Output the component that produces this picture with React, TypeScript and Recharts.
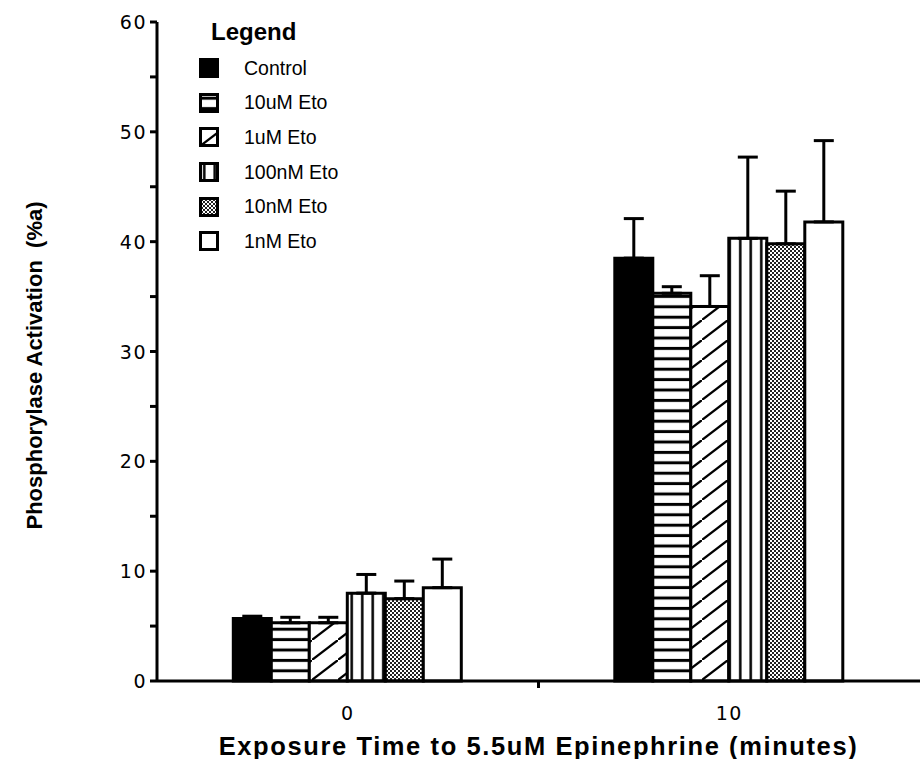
import React from 'react';
import { BarChart, Bar, XAxis, YAxis, ErrorBar, Legend } from 'recharts';

const categories = ['0', '10'];
const seriesNames = ['Control', '10uM Eto', '1uM Eto', '100nM Eto', '10nM Eto', '1nM Eto'];
const controlValues = [5.7, 38.5];
const controlErrors = [0.2, 3.6];
const eto10uMValues = [5.3, 35.3];
const eto10uMErrors = [0.5, 0.6];
const eto1uMValues = [5.3, 34.1];
const eto1uMErrors = [0.5, 2.8];
const eto100nMValues = [8.0, 40.3];
const eto100nMErrors = [1.7, 7.4];
const eto10nMValues = [7.5, 39.8];
const eto10nMErrors = [1.6, 4.8];
const eto1nMValues = [8.5, 41.8];
const eto1nMErrors = [2.6, 7.4];
const yTicks = [0, 5, 10, 15, 20, 25, 30, 35, 40, 45, 50, 55, 60];

const seriesValues = [controlValues, eto10uMValues, eto1uMValues, eto100nMValues, eto10nMValues, eto1nMValues];
const seriesErrors = [controlErrors, eto10uMErrors, eto1uMErrors, eto100nMErrors, eto10nMErrors, eto1nMErrors];
const fills = ['#000', 'url(#pHoriz)', 'url(#pDiag)', 'url(#pVert)', 'url(#pDots)', '#fff'];

const data = categories.map((c, i) => {
  const row: any = { time: c };
  seriesValues.forEach((vals, s) => {
    row['s' + s] = vals[i];
    row['e' + s] = [0, seriesErrors[s][i]];
  });
  return row;
});

const TICK_FONT = '"DejaVu Sans", sans-serif';
const TITLE_FONT = '"Liberation Sans", Arial, sans-serif';
const X_TICK_MARGIN = 25;

const YTick = (props: any) => {
  const { x, y, payload } = props;
  if (payload.value % 10 !== 0) return null;
  return (
    <text x={x} y={y} textAnchor="end" dominantBaseline="central" fontSize={19} letterSpacing={1.5} fontFamily={TICK_FONT} fill="#000">
      {payload.value}
    </text>
  );
};

const XTick = (props: any) => {
  const { x, y, payload, index } = props;
  const axisY = y - X_TICK_MARGIN;
  const off = payload && payload.offset ? payload.offset : 0;
  return (
    <g>
      <text x={x} y={y} textAnchor="middle" dominantBaseline="hanging" fontSize={19} letterSpacing={1.5} fontFamily={TICK_FONT} fill="#000">
        {payload.value}
      </text>
      {index === 0 && off ? (
        <line x1={x + off} x2={x + off} y1={axisY} y2={axisY + 7} stroke="#000" strokeWidth={3} />
      ) : null}
    </g>
  );
};

const YLabel = (props: any) => {
  const vb = props.viewBox || {};
  const cx = vb.x + 14;
  const cy = vb.y + vb.height / 2 + 14;
  return (
    <text x={cx} y={cy} transform={`rotate(-90 ${cx} ${cy})`} textAnchor="middle" dominantBaseline="central" fontSize={22} fontWeight="bold" fontFamily={TITLE_FONT} fill="#000">
      {'Phosphorylase Activation\u00a0 (%a)'}
    </text>
  );
};

const XLabel = (props: any) => {
  const vb = props.viewBox || {};
  const cx = vb.x + vb.width / 2;
  const cy = vb.y + 65;
  return (
    <text x={cx} y={cy} textAnchor="middle" dominantBaseline="central" fontSize={25.5} letterSpacing={1.6} fontWeight="bold" fontFamily={TITLE_FONT} fill="#000">
      Exposure Time to 5.5uM Epinephrine (minutes)
    </text>
  );
};

const LegendContent = () => {
  return (
    <div style={{ fontFamily: TITLE_FONT, color: '#000' }}>
      <div style={{ fontSize: 24, fontWeight: 'bold', marginLeft: 12, height: 30, lineHeight: '30px', marginBottom: 4 }}>Legend</div>
      {seriesNames.map((name, idx) => (
        <div key={name} style={{ display: 'flex', alignItems: 'center', height: 34.6 }}>
          <svg width={20} height={20} style={{ display: 'block' }}>
            <rect x={1.5} y={1.5} width={17} height={17} fill={fills[idx]} stroke="#000" strokeWidth={3} />
          </svg>
          <span style={{ fontSize: 19.5, marginLeft: 25 }}>{name}</span>
        </div>
      ))}
    </div>
  );
};

export default function App() {
  return (
    <div style={{ position: 'absolute', left: 0, top: 0, width: 922, height: 759, background: '#fff' }}>
      <BarChart
        width={922}
        height={759}
        data={data}
        margin={{ top: 22, right: 2, bottom: 0, left: 20 }}
        barCategoryGap="20%"
        barGap={0}
      >
        <defs>
          <pattern id="pHoriz" patternUnits="userSpaceOnUse" width={10} height={10.4}>
            <rect width={10} height={10.4} fill="#fff" />
            <rect y={3.7} width={10} height={3} fill="#000" />
          </pattern>
          <pattern id="pDiag" patternUnits="userSpaceOnUse" width={26} height={20}>
            <rect width={26} height={20} fill="#fff" />
            <line x1={-2.6} y1={22} x2={28.6} y2={-2} stroke="#000" strokeWidth={2.2} />
          </pattern>
          <pattern id="pVert" patternUnits="userSpaceOnUse" width={10.5} height={10}>
            <rect width={10.5} height={10} fill="#fff" />
            <rect x={4} width={2.5} height={10} fill="#000" />
          </pattern>
          <pattern id="pDots" patternUnits="userSpaceOnUse" width={4} height={4}>
            <rect width={4} height={4} fill="#fff" />
            <rect x={0} y={0} width={2} height={2} fill="#222" />
            <rect x={2} y={2} width={2} height={2} fill="#222" />
          </pattern>
        </defs>
        <XAxis
          dataKey="time"
          height={78}
          axisLine={{ stroke: '#000', strokeWidth: 3 }}
          tickLine={false}
          tickSize={0}
          tickMargin={X_TICK_MARGIN}
          tick={<XTick />}
          label={<XLabel />}
        />
        <YAxis
          width={137}
          domain={[0, 60]}
          ticks={yTicks}
          interval={0}
          axisLine={{ stroke: '#000', strokeWidth: 3 }}
          tickLine={{ stroke: '#000', strokeWidth: 3 }}
          tickSize={7}
          tickMargin={3}
          tick={<YTick />}
          label={<YLabel />}
        />
        <Legend
          layout="vertical"
          align="center"
          verticalAlign="middle"
          content={<LegendContent />}
          wrapperStyle={{ position: 'absolute', left: 199, top: 17, width: 220, height: 250 }}
        />
        {seriesNames.map((name, s) => (
          <Bar
            key={name}
            dataKey={'s' + s}
            name={name}
            fill={fills[s]}
            stroke="#000"
            strokeWidth={3}
            isAnimationActive={false}
          >
            <ErrorBar dataKey={'e' + s} direction="y" width={10} stroke="#000" strokeWidth={3} />
          </Bar>
        ))}
      </BarChart>
    </div>
  );
}
